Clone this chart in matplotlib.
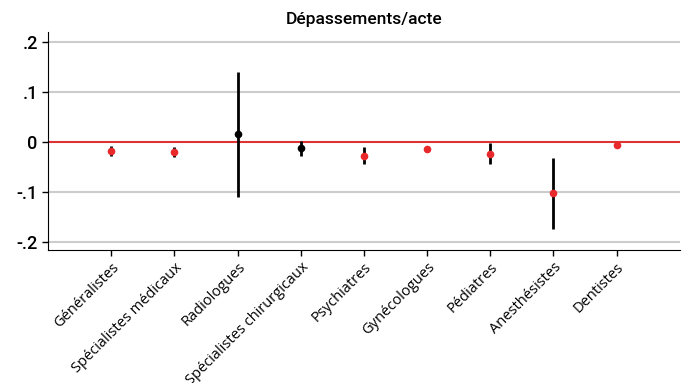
import matplotlib
matplotlib.use('Agg')
import matplotlib.pyplot as plt

categories = ['Généralistes', 'Spécialistes médicaux', 'Radiologues', 'Spécialistes chirurgicaux',
              'Psychiatres', 'Gynécologues', 'Pédiatres', 'Anesthésistes', 'Dentistes']
estimate = [-0.018, -0.020, 0.015, -0.013, -0.028, -0.015, -0.024, -0.103, -0.007]
ci_low = [-0.028, -0.030, -0.110, -0.028, -0.045, -0.020, -0.045, -0.175, -0.010]
ci_high = [-0.009, -0.011, 0.139, 0.001, -0.010, -0.010, -0.003, -0.032, -0.004]
yticks = [-0.2, -0.1, 0, 0.1, 0.2]
ytick_labels = ['-.2', '-.1', '0', '.1', '.2']

RED = '#e8282b'
fig = plt.figure(figsize=(6.88, 3.83), dpi=100)
ax = fig.add_axes([0.070, 0.347, 0.918, 0.569])

x = list(range(1, len(categories) + 1))
for yv in yticks:
    if yv != 0:
        ax.axhline(yv, color='#cccccc', lw=1.5, zorder=0)
ax.axhline(0, color='#dd3333', lw=1.5, zorder=1)

for xi, e, lo, hi in zip(x, estimate, ci_low, ci_high):
    sig = hi < 0 or lo > 0
    ax.vlines(xi, lo, hi, color='black', lw=2, zorder=2)
    ax.plot(xi, e, 'o', ms=5.5, color=RED if sig else 'black', mec='none', zorder=3)

ax.set_xlim(0, 10)
ax.set_ylim(-0.217, 0.219)
ax.set_yticks(yticks)
ax.set_yticklabels(ytick_labels, fontsize=13, family='Roboto', fontweight='medium')
ax.set_xticks(x)
ax.set_xticklabels(categories, rotation=45, ha='right', rotation_mode='anchor',
                   fontsize=10.5, family='Open Sans')
ax.tick_params(axis='both', direction='out', length=4, width=1)
ax.tick_params(axis='x', pad=3)
for s in ['top', 'right']:
    ax.spines[s].set_visible(False)
ax.set_title('Dépassements/acte', fontsize=12.5, family='Roboto', fontweight='medium', pad=6)

plt.savefig('out.png', dpi=100)
